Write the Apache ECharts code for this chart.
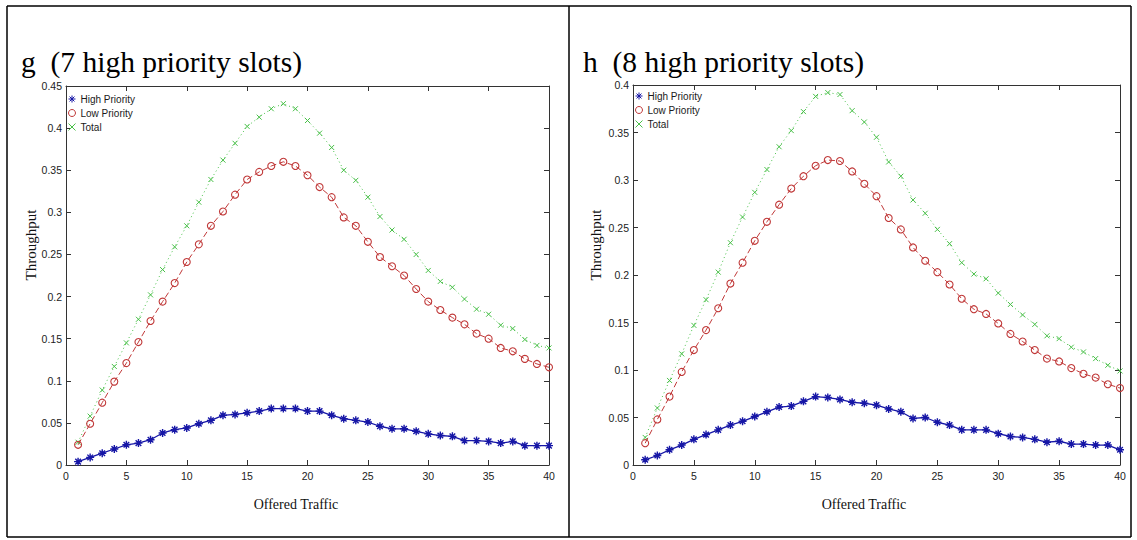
<!DOCTYPE html>
<html><head><meta charset="utf-8">
<script src="https://cdn.jsdelivr.net/npm/echarts@6/dist/echarts.min.js"></script>
<style>html,body{margin:0;padding:0;background:#fff}#c{width:1137px;height:540px}</style>
</head><body><div id="c"></div>
<script>
// ---------- data ----------
const offered = [1,2,3,4,5,6,7,8,9,10,11,12,13,14,15,16,17,18,19,20,21,22,23,24,25,26,27,28,29,30,31,32,33,34,35,36,37,38,39,40];
const seriesNames = ['High Priority', 'Low Priority', 'Total'];
const panelTitles = ['g  (7 high priority slots)', 'h  (8 high priority slots)'];
const xAxisTitle = 'Offered Traffic';
const yAxisTitle = 'Throughput';
const xRange = [0, 40, 5];
const yRanges = [[0, 0.45, 0.05], [0, 0.4, 0.05]];

// panel g (7 high priority slots)
const gHigh  = [0.004,0.009,0.014,0.019,0.024,0.026,0.030,0.038,0.042,0.044,0.049,0.053,0.059,0.060,0.062,0.064,0.067,0.067,0.067,0.064,0.064,0.059,0.055,0.053,0.051,0.046,0.043,0.043,0.040,0.037,0.035,0.034,0.029,0.029,0.028,0.026,0.028,0.023,0.023,0.023];
const gLow   = [0.024,0.049,0.074,0.099,0.121,0.146,0.171,0.194,0.216,0.241,0.262,0.284,0.301,0.321,0.339,0.348,0.355,0.360,0.355,0.344,0.330,0.318,0.294,0.284,0.265,0.247,0.236,0.225,0.209,0.194,0.184,0.175,0.167,0.156,0.150,0.139,0.135,0.126,0.120,0.116];
const gTotal = [0.027,0.058,0.089,0.117,0.145,0.173,0.202,0.232,0.259,0.284,0.312,0.339,0.362,0.382,0.402,0.413,0.423,0.429,0.423,0.409,0.394,0.377,0.350,0.338,0.318,0.295,0.279,0.268,0.250,0.231,0.218,0.211,0.197,0.185,0.179,0.166,0.162,0.149,0.142,0.139];

// panel h (8 high priority slots)
const hHigh  = [0.0055,0.010,0.016,0.021,0.027,0.032,0.037,0.042,0.046,0.051,0.056,0.061,0.062,0.067,0.072,0.071,0.069,0.066,0.065,0.063,0.059,0.056,0.049,0.050,0.045,0.042,0.037,0.037,0.037,0.033,0.030,0.029,0.027,0.024,0.025,0.022,0.022,0.021,0.021,0.016];
const hLow   = [0.023,0.048,0.072,0.098,0.121,0.142,0.165,0.191,0.213,0.236,0.256,0.274,0.291,0.304,0.315,0.321,0.320,0.309,0.296,0.283,0.260,0.248,0.229,0.215,0.203,0.190,0.175,0.164,0.159,0.149,0.138,0.130,0.121,0.112,0.109,0.102,0.096,0.092,0.085,0.081];
const hTotal = [0.029,0.060,0.089,0.117,0.147,0.174,0.203,0.234,0.261,0.287,0.311,0.335,0.352,0.372,0.388,0.392,0.390,0.373,0.361,0.345,0.319,0.304,0.279,0.265,0.248,0.233,0.213,0.201,0.196,0.181,0.169,0.158,0.148,0.136,0.133,0.124,0.119,0.112,0.105,0.099];

// ---------- styling ----------
const SERIF = '"Liberation Serif","Times New Roman",serif';
const SANS = '"Liberation Sans",Arial,sans-serif';
const BLUE = '#1616a6', RED = '#c03838', GREEN = '#48c048';
const AXIS = '#333';
const STAR = 'path://M5,0L5,10M0,5L10,5M1.5,1.5L8.5,8.5M1.5,8.5L8.5,1.5';
const CROSS = 'path://M0,0L10,10M0,10L10,0';
const CIRC = 'circle';

const styles = [
  {color: BLUE, symbol: STAR, size: 8, line: 'solid', width: 1.3, bw: 1.4},
  {color: RED, symbol: CIRC, size: 7, line: [6, 3], width: 1, bw: 1.1},
  {color: GREEN, symbol: CROSS, size: 5, line: [1, 3], width: 1, bw: 1}
];

const grids = [
  {left: 66, top: 86, width: 483, height: 379},
  {left: 633, top: 85, width: 487, height: 380}
];
const panelData = [[gHigh, gLow, gTotal], [hHigh, hLow, hTotal]];

const xAxes = [], yAxes = [], series = [], legends = [];
grids.forEach((g, gi) => {
  const yr = yRanges[gi];
  const base = {gridIndex: gi, type: 'value', splitLine: {show: false},
    axisLine: {show: true, onZero: false, lineStyle: {color: AXIS, width: 1}},
    axisTick: {show: true, inside: true, length: 5, lineStyle: {color: AXIS}}};
  xAxes.push(Object.assign({}, base, {position: 'bottom', min: xRange[0], max: xRange[1], interval: xRange[2],
    axisLabel: {color: '#222', fontFamily: SANS, fontSize: 10.5, margin: 5}}));
  xAxes.push(Object.assign({}, base, {position: 'top', min: xRange[0], max: xRange[1], interval: xRange[2],
    axisLabel: {show: false}}));
  yAxes.push(Object.assign({}, base, {position: 'left', min: yr[0], max: yr[1], interval: yr[2],
    axisLabel: {color: '#222', fontFamily: SANS, fontSize: 10.5, margin: 4}}));
  yAxes.push(Object.assign({}, base, {position: 'right', min: yr[0], max: yr[1], interval: yr[2],
    axisLabel: {show: false}}));
  panelData[gi].forEach((arr, si) => {
    const st = styles[si];
    series.push({
      name: seriesNames[si], type: 'line', xAxisIndex: gi * 2, yAxisIndex: gi * 2,
      data: offered.map((x, i) => [x, arr[i]]),
      symbol: st.symbol, symbolSize: st.size, showSymbol: true,
      lineStyle: {color: st.color, width: st.width, type: st.line},
      itemStyle: {color: st.symbol === CIRC ? 'rgba(255,255,255,0)' : st.color, borderColor: st.color, borderWidth: st.bw},
      emphasis: {disabled: true}, animation: false, z: 3 - si
    });
  });
  legends.push({
    show: true, orient: 'vertical', left: g.left + 2, top: gi === 0 ? 94 : 91,
    padding: 0, itemGap: 4, itemWidth: 7, itemHeight: 7,
    textStyle: {fontFamily: SANS, fontSize: 10, color: '#1a1a1a', lineHeight: 10},
    data: seriesNames.map((n, si) => ({name: n, icon: styles[si].symbol,
      itemStyle: {color: si === 1 ? 'rgba(255,255,255,0)' : styles[si].color, borderColor: styles[si].color, borderWidth: 1}}))
  });
});

// titles, axis names, table borders
const graphic = [];
const titleX = [21, 583];
const yNameX = [31, 596];
const xNameX = [296, 864];
grids.forEach((g, gi) => {
  graphic.push({type: 'text', x: titleX[gi], y: 62, style: {text: panelTitles[gi], font: '29.5px ' + SERIF, fill: '#000', align: 'left', verticalAlign: 'middle'}});
  graphic.push({type: 'text', x: yNameX[gi], y: 245, rotation: Math.PI / 2, style: {text: yAxisTitle, font: '15px ' + SERIF, fill: '#111', align: 'center', verticalAlign: 'middle'}});
  graphic.push({type: 'text', x: xNameX[gi], y: 504, style: {text: xAxisTitle, font: '14px ' + SERIF, fill: '#111', align: 'center', verticalAlign: 'middle'}});
});
const bl = {stroke: '#000', lineWidth: 1.5};
graphic.push({type: 'line', shape: {x1: 7, y1: 6, x2: 1131, y2: 6}, style: bl});
graphic.push({type: 'line', shape: {x1: 7, y1: 537, x2: 1131, y2: 537}, style: bl});
graphic.push({type: 'line', shape: {x1: 7, y1: 6, x2: 7, y2: 537}, style: bl});
graphic.push({type: 'line', shape: {x1: 569, y1: 6, x2: 569, y2: 537}, style: bl});
graphic.push({type: 'line', shape: {x1: 1131, y1: 6, x2: 1131, y2: 537}, style: bl});

const chart = echarts.init(document.getElementById('c'), null, {renderer: 'svg'});
chart.setOption({
  animation: false,
  backgroundColor: '#fff',
  grid: grids.map(g => Object.assign({containLabel: false}, g)),
  xAxis: xAxes, yAxis: yAxes, series: series, legend: legends, graphic: graphic
});
</script></body></html>
